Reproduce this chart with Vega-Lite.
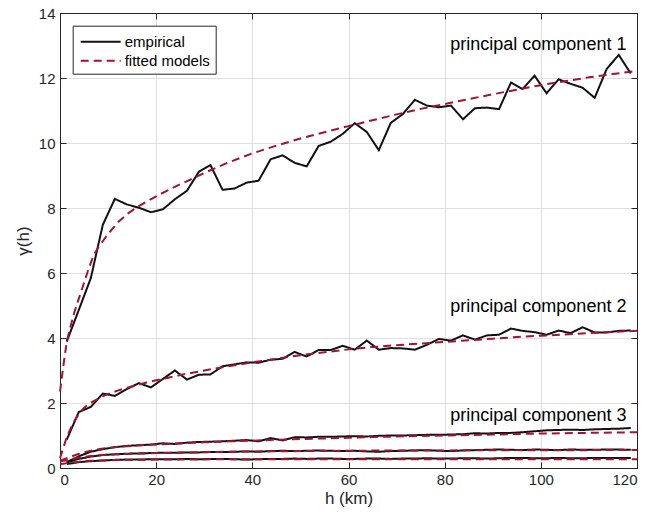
{
  "$schema": "https://vega.github.io/schema/vega-lite/v6.json",
  "width": 577,
  "height": 455,
  "autosize": {"type": "none"},
  "padding": {"left": 60, "top": 13, "right": 12, "bottom": 52},
  "background": "white",
  "config": {
    "font": "Liberation Sans",
    "view": {"stroke": "#262626", "strokeWidth": 1},
    "axis": {
      "domainColor": "#262626", "tickColor": "#262626", "labelColor": "#262626", "titleColor": "#262626",
      "labelFont": "Liberation Sans", "titleFont": "Liberation Sans", "labelFontSize": 15, "titleFontSize": 17,
      "titleFontWeight": "normal", "gridColor": "#dfdfdf", "gridWidth": 1, "tickSize": -6, "tickWidth": 1, "domainWidth": 1
    }
  },
  "datasets": {
    "emp": [
      {"h":1.4,"pc1":3.89,"pc2":0.87,"pc3":0.18,"pc4":0.17,"pc5":0.12},
      {"h":3.9,"pc1":4.86,"pc2":1.72,"pc3":0.36,"pc4":0.28,"pc5":0.18},
      {"h":6.4,"pc1":5.84,"pc2":1.88,"pc3":0.50,"pc4":0.35,"pc5":0.21},
      {"h":8.9,"pc1":7.48,"pc2":2.29,"pc3":0.58,"pc4":0.40,"pc5":0.23},
      {"h":11.4,"pc1":8.28,"pc2":2.22,"pc3":0.64,"pc4":0.42,"pc5":0.25},
      {"h":13.9,"pc1":8.11,"pc2":2.43,"pc3":0.68,"pc4":0.44,"pc5":0.26},
      {"h":16.4,"pc1":8.01,"pc2":2.61,"pc3":0.70,"pc4":0.45,"pc5":0.26},
      {"h":18.9,"pc1":7.87,"pc2":2.48,"pc3":0.72,"pc4":0.46,"pc5":0.27},
      {"h":21.4,"pc1":7.96,"pc2":2.74,"pc3":0.76,"pc4":0.47,"pc5":0.27},
      {"h":23.9,"pc1":8.27,"pc2":3.00,"pc3":0.74,"pc4":0.47,"pc5":0.27},
      {"h":26.4,"pc1":8.53,"pc2":2.72,"pc3":0.78,"pc4":0.48,"pc5":0.28},
      {"h":28.9,"pc1":9.12,"pc2":2.87,"pc3":0.80,"pc4":0.48,"pc5":0.27},
      {"h":31.3,"pc1":9.32,"pc2":2.88,"pc3":0.81,"pc4":0.49,"pc5":0.28},
      {"h":33.8,"pc1":8.56,"pc2":3.13,"pc3":0.82,"pc4":0.49,"pc5":0.28},
      {"h":36.3,"pc1":8.60,"pc2":3.19,"pc3":0.84,"pc4":0.50,"pc5":0.27},
      {"h":38.8,"pc1":8.78,"pc2":3.25,"pc3":0.86,"pc4":0.51,"pc5":0.26},
      {"h":41.3,"pc1":8.84,"pc2":3.24,"pc3":0.82,"pc4":0.50,"pc5":0.27},
      {"h":43.8,"pc1":9.50,"pc2":3.33,"pc3":0.92,"pc4":0.52,"pc5":0.28},
      {"h":46.3,"pc1":9.62,"pc2":3.36,"pc3":0.85,"pc4":0.53,"pc5":0.28},
      {"h":48.8,"pc1":9.39,"pc2":3.57,"pc3":0.95,"pc4":0.52,"pc5":0.29},
      {"h":51.3,"pc1":9.28,"pc2":3.43,"pc3":0.94,"pc4":0.53,"pc5":0.28},
      {"h":53.8,"pc1":9.91,"pc2":3.63,"pc3":0.96,"pc4":0.54,"pc5":0.29},
      {"h":56.3,"pc1":10.04,"pc2":3.63,"pc3":0.96,"pc4":0.53,"pc5":0.29},
      {"h":58.8,"pc1":10.28,"pc2":3.76,"pc3":0.97,"pc4":0.52,"pc5":0.28},
      {"h":61.3,"pc1":10.61,"pc2":3.64,"pc3":0.98,"pc4":0.53,"pc5":0.28},
      {"h":63.8,"pc1":10.34,"pc2":3.92,"pc3":0.97,"pc4":0.51,"pc5":0.29},
      {"h":66.3,"pc1":9.78,"pc2":3.64,"pc3":0.99,"pc4":0.50,"pc5":0.29},
      {"h":68.8,"pc1":10.62,"pc2":3.69,"pc3":1.00,"pc4":0.52,"pc5":0.28},
      {"h":71.3,"pc1":10.89,"pc2":3.68,"pc3":1.00,"pc4":0.53,"pc5":0.29},
      {"h":73.8,"pc1":11.33,"pc2":3.64,"pc3":1.01,"pc4":0.54,"pc5":0.29},
      {"h":76.3,"pc1":11.15,"pc2":3.79,"pc3":1.02,"pc4":0.55,"pc5":0.30},
      {"h":78.8,"pc1":11.10,"pc2":3.97,"pc3":1.02,"pc4":0.53,"pc5":0.29},
      {"h":81.3,"pc1":11.15,"pc2":3.92,"pc3":1.03,"pc4":0.52,"pc5":0.29},
      {"h":83.8,"pc1":10.73,"pc2":4.08,"pc3":1.04,"pc4":0.54,"pc5":0.30},
      {"h":86.3,"pc1":11.07,"pc2":3.95,"pc3":1.07,"pc4":0.55,"pc5":0.30},
      {"h":88.8,"pc1":11.09,"pc2":4.08,"pc3":1.06,"pc4":0.56,"pc5":0.29},
      {"h":91.3,"pc1":11.04,"pc2":4.10,"pc3":1.08,"pc4":0.57,"pc5":0.30},
      {"h":93.8,"pc1":11.86,"pc2":4.29,"pc3":1.08,"pc4":0.56,"pc5":0.31},
      {"h":96.2,"pc1":11.66,"pc2":4.22,"pc3":1.10,"pc4":0.55,"pc5":0.31},
      {"h":98.7,"pc1":12.07,"pc2":4.18,"pc3":1.13,"pc4":0.57,"pc5":0.30},
      {"h":101.2,"pc1":11.53,"pc2":4.10,"pc3":1.16,"pc4":0.56,"pc5":0.30},
      {"h":103.7,"pc1":11.96,"pc2":4.23,"pc3":1.17,"pc4":0.55,"pc5":0.31},
      {"h":106.2,"pc1":11.82,"pc2":4.15,"pc3":1.18,"pc4":0.57,"pc5":0.30},
      {"h":108.7,"pc1":11.70,"pc2":4.33,"pc3":1.17,"pc4":0.56,"pc5":0.30},
      {"h":111.2,"pc1":11.39,"pc2":4.17,"pc3":1.19,"pc4":0.56,"pc5":0.31},
      {"h":113.7,"pc1":12.28,"pc2":4.17,"pc3":1.20,"pc4":0.57,"pc5":0.31},
      {"h":116.2,"pc1":12.71,"pc2":4.22,"pc3":1.21,"pc4":0.57,"pc5":0.31},
      {"h":118.7,"pc1":12.14,"pc2":4.23,"pc3":1.23,"pc4":0.56,"pc5":0.31}
    ],
    "fit": [
      {"h":0,"pc1":2.35,"pc2":0.3,"pc3":0.22,"pc4":0.2,"pc5":0.12},
      {"h":0.7,"pc1":3.15,"pc2":0.62,"pc3":0.26,"pc4":0.22,"pc5":0.13},
      {"h":1.4,"pc1":3.88,"pc2":0.95,"pc3":0.3,"pc4":0.24,"pc5":0.15},
      {"h":2,"pc1":4.25,"pc2":1.15,"pc3":0.33,"pc4":0.26,"pc5":0.16},
      {"h":3,"pc1":4.8,"pc2":1.45,"pc3":0.39,"pc4":0.29,"pc5":0.18},
      {"h":4,"pc1":5.25,"pc2":1.68,"pc3":0.44,"pc4":0.32,"pc5":0.19},
      {"h":5,"pc1":5.7,"pc2":1.85,"pc3":0.48,"pc4":0.34,"pc5":0.21},
      {"h":6,"pc1":6.15,"pc2":1.97,"pc3":0.52,"pc4":0.36,"pc5":0.22},
      {"h":7,"pc1":6.55,"pc2":2.06,"pc3":0.55,"pc4":0.38,"pc5":0.22},
      {"h":8,"pc1":6.8,"pc2":2.14,"pc3":0.58,"pc4":0.39,"pc5":0.23},
      {"h":9,"pc1":7.0,"pc2":2.21,"pc3":0.6,"pc4":0.4,"pc5":0.23},
      {"h":10,"pc1":7.2,"pc2":2.28,"pc3":0.62,"pc4":0.41,"pc5":0.24},
      {"h":12,"pc1":7.55,"pc2":2.38,"pc3":0.65,"pc4":0.42,"pc5":0.245},
      {"h":14,"pc1":7.82,"pc2":2.47,"pc3":0.67,"pc4":0.43,"pc5":0.25},
      {"h":16,"pc1":8.02,"pc2":2.55,"pc3":0.69,"pc4":0.44,"pc5":0.25},
      {"h":18,"pc1":8.2,"pc2":2.63,"pc3":0.71,"pc4":0.45,"pc5":0.255},
      {"h":20,"pc1":8.36,"pc2":2.7,"pc3":0.72,"pc4":0.46,"pc5":0.26},
      {"h":22.5,"pc1":8.55,"pc2":2.78,"pc3":0.74,"pc4":0.465,"pc5":0.26},
      {"h":25,"pc1":8.73,"pc2":2.86,"pc3":0.76,"pc4":0.47,"pc5":0.26},
      {"h":27.5,"pc1":8.9,"pc2":2.93,"pc3":0.78,"pc4":0.48,"pc5":0.265},
      {"h":30,"pc1":9.08,"pc2":3.0,"pc3":0.79,"pc4":0.49,"pc5":0.265},
      {"h":35,"pc1":9.4,"pc2":3.13,"pc3":0.82,"pc4":0.5,"pc5":0.27},
      {"h":40,"pc1":9.68,"pc2":3.25,"pc3":0.84,"pc4":0.51,"pc5":0.27},
      {"h":45,"pc1":9.92,"pc2":3.36,"pc3":0.87,"pc4":0.515,"pc5":0.27},
      {"h":50,"pc1":10.14,"pc2":3.47,"pc3":0.89,"pc4":0.52,"pc5":0.27},
      {"h":55,"pc1":10.33,"pc2":3.56,"pc3":0.91,"pc4":0.525,"pc5":0.27},
      {"h":60,"pc1":10.52,"pc2":3.65,"pc3":0.93,"pc4":0.53,"pc5":0.27},
      {"h":65,"pc1":10.7,"pc2":3.72,"pc3":0.95,"pc4":0.535,"pc5":0.27},
      {"h":70,"pc1":10.88,"pc2":3.78,"pc3":0.97,"pc4":0.535,"pc5":0.27},
      {"h":75,"pc1":11.05,"pc2":3.83,"pc3":0.985,"pc4":0.54,"pc5":0.27},
      {"h":80,"pc1":11.2,"pc2":3.88,"pc3":1.0,"pc4":0.54,"pc5":0.27},
      {"h":85,"pc1":11.35,"pc2":3.93,"pc3":1.015,"pc4":0.545,"pc5":0.27},
      {"h":90,"pc1":11.5,"pc2":3.98,"pc3":1.03,"pc4":0.545,"pc5":0.27},
      {"h":95,"pc1":11.64,"pc2":4.03,"pc3":1.045,"pc4":0.55,"pc5":0.27},
      {"h":100,"pc1":11.78,"pc2":4.07,"pc3":1.06,"pc4":0.55,"pc5":0.27},
      {"h":105,"pc1":11.9,"pc2":4.11,"pc3":1.07,"pc4":0.55,"pc5":0.27},
      {"h":110,"pc1":12.02,"pc2":4.15,"pc3":1.08,"pc4":0.55,"pc5":0.27},
      {"h":115,"pc1":12.12,"pc2":4.19,"pc3":1.09,"pc4":0.555,"pc5":0.27},
      {"h":120,"pc1":12.22,"pc2":4.22,"pc3":1.1,"pc4":0.555,"pc5":0.27}
    ],
    "labels": [
      {"label":"principal component 1","h":117.8,"v":12.85},
      {"label":"principal component 2","h":117.8,"v":4.79},
      {"label":"principal component 3","h":117.8,"v":1.44}
    ]
  },
  "layer": [
    {
      "data": {"name": "emp"},
      "transform": [{"fold": ["pc1","pc2","pc3","pc4","pc5"], "as": ["pc","v"]}],
      "mark": {"type": "line", "strokeWidth": 2},
      "encoding": {
        "x": {"field": "h", "type": "quantitative", "scale": {"domain": [0,120], "nice": false},
              "axis": {"orient": "bottom", "values": [0,20,40,60,80,100,120], "title": "h (km)", "grid": true, "labelPadding": 10, "titlePadding": 3}},
        "y": {"field": "v", "type": "quantitative", "scale": {"domain": [0,14], "nice": false},
              "axis": {"orient": "left", "values": [0,2,4,6,8,10,12,14], "title": "γ(h)", "grid": true, "labelPadding": 11, "titlePadding": 6}},
        "detail": {"field": "pc"},
        "color": {"datum": "empirical", "scale": {"domain": ["empirical","fitted models"], "range": ["#111111","#a2142f"]},
                  "legend": {"title": null, "orient": "none", "legendX": 12.7, "legendY": 12.7,
                             "symbolType": "M-2,0L2,0", "symbolSize": 400, "symbolStrokeWidth": 2, "symbolOffset": 12, "symbolFillColor": "transparent",
                             "labelFontSize": 15, "labelFont": "Liberation Sans", "labelColor": "#000000", "strokeColor": "#262626", "fillColor": "white",
                             "padding": 5, "rowPadding": 0, "labelOffset": 13}},
        "strokeDash": {"datum": "empirical", "scale": {"domain": ["empirical","fitted models"], "range": [[1,0],[8,5]]}, "legend": null}
      }
    },
    {
      "data": {"name": "fit"},
      "transform": [{"fold": ["pc1","pc2","pc3","pc4","pc5"], "as": ["pc","v"]}],
      "mark": {"type": "line", "strokeWidth": 2},
      "encoding": {
        "x": {"field": "h", "type": "quantitative", "axis": {"orient": "top", "values": [0,20,40,60,80,100,120], "labels": false, "title": null, "grid": false}},
        "y": {"field": "v", "type": "quantitative", "axis": {"orient": "right", "values": [0,2,4,6,8,10,12,14], "labels": false, "title": null, "grid": false}},
        "detail": {"field": "pc"},
        "color": {"datum": "fitted models"},
        "strokeDash": {"datum": "fitted models"}
      }
    },
    {
      "data": {"name": "labels"},
      "mark": {"type": "text", "align": "right", "baseline": "alphabetic", "fontSize": 18, "font": "Liberation Sans", "color": "#000000"},
      "encoding": {
        "x": {"field": "h", "type": "quantitative", "axis": null},
        "y": {"field": "v", "type": "quantitative", "axis": null},
        "text": {"field": "label"}
      }
    }
  ],
  "resolve": {"axis": {"x": "independent", "y": "independent"}}
}
